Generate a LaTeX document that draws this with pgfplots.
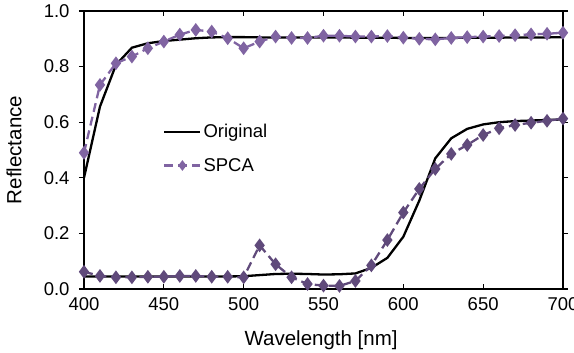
\documentclass[border=0pt]{standalone}
\usepackage{pgfplots}
\pgfplotsset{compat=1.18}
\usepackage{fontspec}
\setmainfont{Liberation Sans}
\definecolor{lpurple}{HTML}{8064A2}
\definecolor{dpurple}{HTML}{604A7B}
\begin{document}
\begin{tikzpicture}
\begin{axis}[
  at={(0,0)}, anchor=south west,
  scale only axis,
  width=479bp, height=278bp,
  xmin=400, xmax=700, ymin=0, ymax=1.0,
  xtick={400,450,...,700},
  ytick={0,0.2,0.4,0.6,0.8,1.0},
  yticklabel style={/pgf/number format/fixed, /pgf/number format/fixed zerofill, /pgf/number format/precision=1},
  /pgf/number format/assume math mode=true,
  ticklabel style={font=\fontsize{18.5bp}{20bp}\selectfont},
  xtick style={draw=black, line width=1.2bp},
  ytick style={draw=black, line width=1.2bp},
  x tick label style={yshift=-5bp},
  y tick label style={xshift=-6bp},
  xtick align=inside, ytick align=outside,
  major tick length=5bp,
  axis line style={line width=1.5bp},
  xlabel={Wavelength [nm]},
  ylabel={Reflectance},
  label style={font=\fontsize{20.5bp}{22bp}\selectfont},
  xlabel style={at={(axis description cs:0.495,-0.183)}, anchor=center},
  ylabel style={at={(axis description cs:-0.146,0.5)}, anchor=center},
  clip=false,
  legend style={draw=none, fill=none, at={(axis description cs:0.165,0.6)}, anchor=north west,
    font=\fontsize{18.5bp}{20bp}\selectfont, row sep=15bp, inner sep=0pt,
    nodes={inner sep=2bp}},
  legend cell align=left,
  legend image code/.code={\draw[mark repeat=2,mark phase=2,#1,mark size=3.5bp] plot coordinates {(0bp,0bp) (18bp,0bp) (36bp,0bp)};},
]
\addplot[black, line width=2.3bp, no markers] coordinates {
(400,0.40) (410,0.656) (420,0.806) (430,0.868) (440,0.884) (450,0.892) (460,0.897) (470,0.902) (480,0.905) (490,0.906) (500,0.906) (510,0.905) (520,0.905) (530,0.905) (540,0.905) (550,0.905) (560,0.905) (570,0.904) (580,0.904) (590,0.904) (600,0.903) (610,0.903) (620,0.903) (630,0.903) (640,0.904) (650,0.904) (660,0.904) (670,0.905) (680,0.905) (690,0.905) (700,0.906)
};
\addlegendentry{Original}
\addplot[lpurple, line width=2.3bp, dash pattern=on 9bp off 5bp, mark=diamond*, mark size=5bp, mark options={solid}] coordinates {
(400,0.490) (410,0.734) (420,0.812) (430,0.836) (440,0.866) (450,0.890) (460,0.915) (470,0.932) (480,0.926) (490,0.902) (500,0.866) (510,0.890) (520,0.908) (530,0.903) (540,0.903) (550,0.911) (560,0.911) (570,0.908) (580,0.908) (590,0.910) (600,0.904) (610,0.900) (620,0.898) (630,0.903) (640,0.906) (650,0.908) (660,0.910) (670,0.913) (680,0.916) (690,0.918) (700,0.922)
};
\addlegendentry{SPCA}
\addplot[black, line width=2.3bp, no markers, forget plot] coordinates {
(400,0.045) (410,0.045) (420,0.045) (430,0.045) (440,0.045) (450,0.045) (460,0.045) (470,0.045) (480,0.045) (490,0.045) (500,0.046) (510,0.050) (520,0.054) (530,0.055) (540,0.054) (550,0.052) (560,0.053) (570,0.056) (580,0.076) (590,0.112) (600,0.188) (610,0.318) (620,0.470) (630,0.542) (640,0.576) (650,0.592) (660,0.600) (670,0.604) (680,0.606) (690,0.608) (700,0.610)
};
\addplot[dpurple, line width=2.3bp, dash pattern=on 9bp off 5bp, mark=diamond*, mark size=5bp, mark options={solid}, forget plot] coordinates {
(400,0.062) (410,0.047) (420,0.042) (430,0.042) (440,0.044) (450,0.044) (460,0.047) (470,0.047) (480,0.044) (490,0.044) (500,0.042) (510,0.157) (520,0.089) (530,0.042) (540,0.018) (550,0.012) (560,0.011) (570,0.029) (580,0.085) (590,0.176) (600,0.275) (610,0.360) (620,0.432) (630,0.486) (640,0.518) (650,0.554) (660,0.578) (670,0.590) (680,0.598) (690,0.605) (700,0.613)
};
\end{axis}
\pgfresetboundingbox
\path (-84bp,-64bp) rectangle (490bp,289bp);
\end{tikzpicture}
\end{document}
